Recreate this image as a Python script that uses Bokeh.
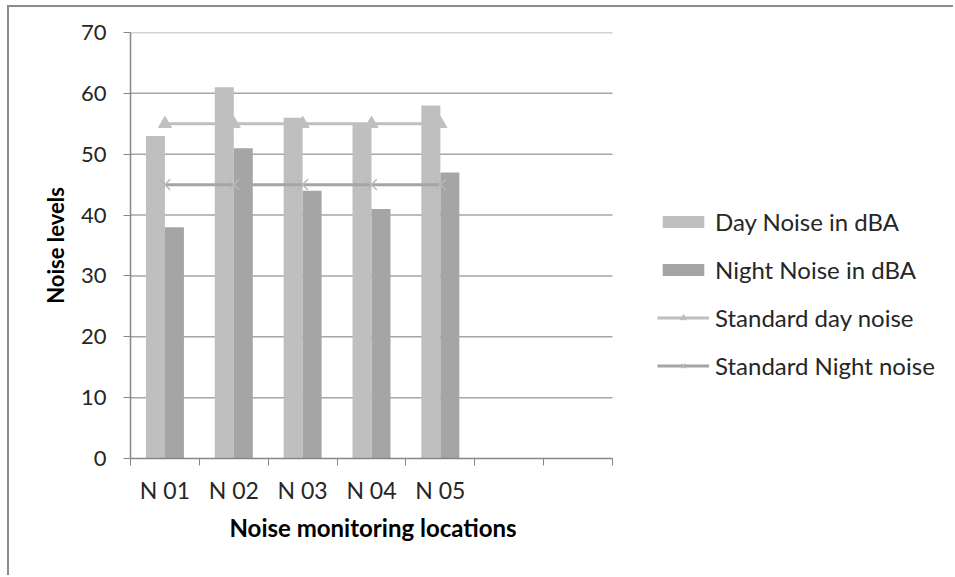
import numpy as np
from bokeh.plotting import figure, ColumnDataSource
from bokeh.models import Range1d, FixedTicker, Legend, LegendItem, Title
from bokeh.transform import dodge
from bokeh.embed import file_html
from bokeh.resources import INLINE

# Noise survey results per monitoring location
locations = ["N 01", "N 02", "N 03", "N 04", "N 05"]
day_noise = [53, 61, 56, 55, 58]
night_noise = [38, 51, 44, 41, 47]
standard_day = [55, 55, 55, 55, 55]
standard_night = [45, 45, 45, 45, 45]
n_slots = 7  # two empty category slots on the right
y_ticks = [0, 10, 20, 30, 40, 50, 60, 70]

FONT = "Lato"
TEXT = "#262626"
DAY_C = "#BFBFBF"
NIGHT_C = "#A5A5A5"
AXIS_C = "#868686"

# canvas geometry: the plotting area spans the whole right side so the
# legend can sit beside the category slots
W, H = 946, 570
LEFT, TOP, BOTTOM = 121, 25, 119
SLOT_PX = 482 / n_slots
x_end = (W - LEFT) / SLOT_PX

centers = np.arange(len(locations)) + 0.5
src = ColumnDataSource(dict(x=centers, day=day_noise, night=night_noise,
                            sday=standard_day, snight=standard_night))

p = figure(width=W, height=H, x_range=Range1d(0, x_end), y_range=Range1d(0, 70),
           output_backend="svg", toolbar_location=None,
           min_border_left=LEFT, min_border_right=0, min_border_top=TOP,
           min_border_bottom=BOTTOM)
p.margin = (5, 0, 0, 7)
p.styles = {"border-top": "2px solid #8c8c8c", "border-left": "2px solid #8c8c8c"}
p.outline_line_color = None
p.background_fill_color = "white"
p.border_fill_color = "white"
p.xgrid.visible = False
p.ygrid.visible = False

# horizontal gridlines over the category slots only
grid_y = [t for t in y_ticks if t > 0]
p.segment(x0=[0] * len(grid_y), x1=[n_slots] * len(grid_y), y0=grid_y, y1=grid_y,
          line_color="#A6A6A6", line_width=1.5)

bw = 0.276
r_day = p.vbar(x=dodge("x", -bw / 2, range=p.x_range), top="day", width=bw, source=src,
               fill_color=DAY_C, line_color=None)
r_night = p.vbar(x=dodge("x", bw / 2, range=p.x_range), top="night", width=bw, source=src,
                 fill_color=NIGHT_C, line_color=None)

r_sd_line = p.line("x", "sday", source=src, line_color=DAY_C, line_width=3)
r_sd_mark = p.scatter("x", "sday", source=src, marker="triangle", size=13,
                      fill_color=DAY_C, line_color=DAY_C)
r_sn_line = p.line("x", "snight", source=src, line_color=NIGHT_C, line_width=3)
r_sn_mark = p.scatter("x", "snight", source=src, marker="x", size=15,
                      line_color="#B8B8B8", line_width=1.5)

# y axis
p.yaxis.ticker = FixedTicker(ticks=y_ticks)
p.yaxis.axis_line_color = AXIS_C
p.yaxis.axis_line_width = 1.5
p.yaxis.major_tick_line_color = AXIS_C
p.yaxis.major_tick_out = 7
p.yaxis.major_tick_in = 0
p.yaxis.minor_tick_line_color = None
p.yaxis.major_label_standoff = 17
p.yaxis.major_label_text_font = FONT
p.yaxis.major_label_text_font_size = "22px"
p.yaxis.major_label_text_color = TEXT
p.yaxis.axis_label = "Noise levels"
p.yaxis.axis_label_text_font = FONT
p.yaxis.axis_label_text_font_size = "22px"
p.yaxis.axis_label_text_font_style = "bold"
p.yaxis.axis_label_text_color = "#000000"
p.yaxis.axis_label_standoff = 9

# x axis: labels centred in slots, ticks on slot boundaries
p.xaxis.bounds = (0, n_slots)
p.xaxis.ticker = FixedTicker(ticks=list(np.arange(n_slots) + 0.5),
                             minor_ticks=list(range(n_slots + 1)))
overrides = {float(c): lab for c, lab in zip(np.arange(n_slots) + 0.5,
                                             locations + [""] * (n_slots - len(locations)))}
p.xaxis.major_label_overrides = overrides
p.xaxis.major_tick_line_color = None
p.xaxis.major_tick_out = 0
p.xaxis.major_tick_in = 0
p.xaxis.minor_tick_line_color = AXIS_C
p.xaxis.minor_tick_out = 7
p.xaxis.minor_tick_in = 0
p.xaxis.axis_line_color = AXIS_C
p.xaxis.axis_line_width = 1.5
p.xaxis.major_label_standoff = 10
p.xaxis.major_label_text_font = FONT
p.xaxis.major_label_text_font_size = "23px"
p.xaxis.major_label_text_color = TEXT

# x title, placed under the category slots
p.add_layout(Title(text="Noise monitoring locations", align="left", offset=99,
                   standoff=8, text_font=FONT, text_font_size="24px",
                   text_font_style="bold", text_color="#000000"), "below")

legend = Legend(items=[
    LegendItem(label="Day Noise in dBA", renderers=[r_day]),
    LegendItem(label="Night Noise in dBA", renderers=[r_night]),
    LegendItem(label="Standard day noise", renderers=[r_sd_line, r_sd_mark]),
    LegendItem(label="Standard Night noise", renderers=[r_sn_line, r_sn_mark]),
])
legend.location = (527, 78)
legend.margin = 0
legend.padding = 0
legend.border_line_color = None
legend.background_fill_alpha = 0
legend.glyph_width = 52
legend.glyph_height = 15
legend.label_standoff = 6
legend.spacing = 19
legend.label_text_font = FONT
legend.label_text_font_size = "24px"
legend.label_text_color = TEXT
p.add_layout(legend)

open("out.html", "w").write(file_html(p, INLINE))
